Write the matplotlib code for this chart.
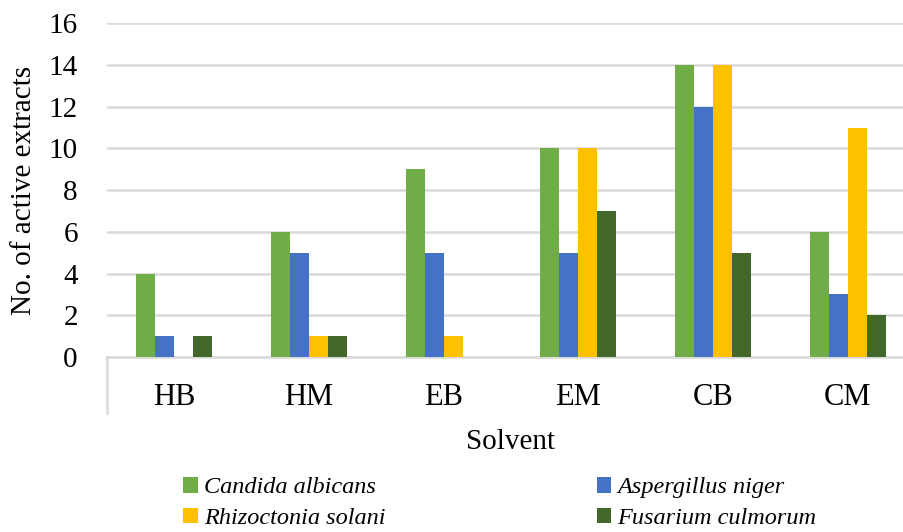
import matplotlib.pyplot as plt
import numpy as np

plt.rcParams['font.family'] = ['Liberation Serif', 'DejaVu Serif']

solvents = ['HB', 'HM', 'EB', 'EM', 'CB', 'CM']
candida = [4, 6, 9, 10, 14, 6]
aspergillus = [1, 5, 5, 5, 12, 3]
rhizoctonia = [0, 1, 1, 10, 14, 11]
fusarium = [1, 1, 0, 7, 5, 2]

series = [
    ('Candida albicans', candida, '#70AD47'),
    ('Aspergillus niger', aspergillus, '#4472C4'),
    ('Rhizoctonia solani', rhizoctonia, '#FFC000'),
    ('Fusarium culmorum', fusarium, '#43682B'),
]

fig = plt.figure(figsize=(9.04, 5.32), dpi=100)
ax = fig.add_axes([107/904, 1-357/532, (915-107)/904, (357-23.3)/532])

x = np.arange(len(solvents))
w = 0.141
bars = {}
for i, (name, vals, col) in enumerate(series):
    bars[name] = ax.bar(x + (i - 1.5) * w, vals, w, color=col, label=name, zorder=3)

ax.set_xlim(-0.5, len(solvents) - 0.5)
ax.set_ylim(0, 16)
ax.set_yticks(range(0, 17, 2))
ax.yaxis.grid(True, color='#D9D9D9', linewidth=1.8, zorder=0)
ax.set_axisbelow(True)
for s in ['top', 'right', 'left']:
    ax.spines[s].set_visible(False)
ax.spines['bottom'].set_color('#D9D9D9')
ax.spines['bottom'].set_linewidth(1.8)
ax.set_xticks(x)
ax.set_xticklabels(solvents)
ax.tick_params(axis='y', length=0, pad=21, labelsize=21)
ax.tick_params(axis='x', length=0, pad=19, labelsize=22)
# category axis divider below the baseline
ax.plot([0, 0], [0, -0.168], transform=ax.transAxes, color='#D9D9D9',
        linewidth=1.8, clip_on=False)

ax.set_ylabel('No. of active extracts', fontsize=21, labelpad=8)
ax.set_xlabel('Solvent', fontsize=21, labelpad=12)

order = ['Candida albicans', 'Rhizoctonia solani', 'Aspergillus niger', 'Fusarium culmorum']
leg = fig.legend([bars[n] for n in order], order, ncol=2, loc='center left',
                 bbox_to_anchor=(183/904, 1-503/532), frameon=False,
                 prop={'family': 'Liberation Serif', 'style': 'italic', 'size': 17.5},
                 handlelength=0.6, handleheight=0.6, handletextpad=0.25,
                 columnspacing=8.7, labelspacing=0.38, borderpad=0, borderaxespad=0)

fig.savefig('out.png', dpi=100)
